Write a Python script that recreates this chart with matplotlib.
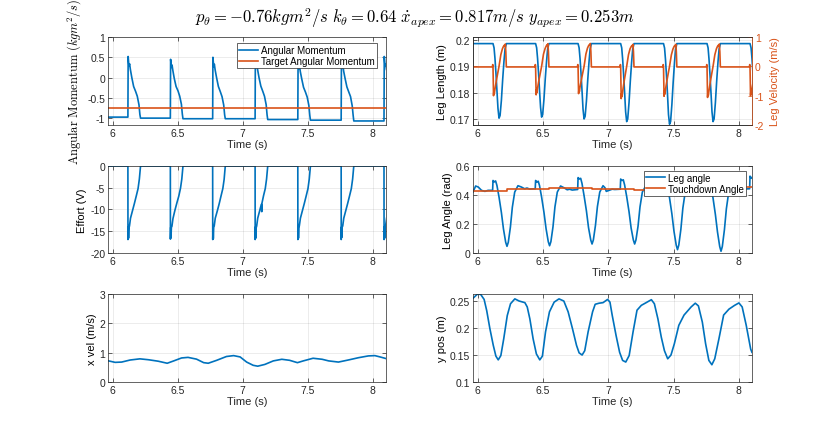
import matplotlib
matplotlib.use('Agg')
import matplotlib.pyplot as plt
from matplotlib.ticker import FormatStrFormatter

plt.rcParams['font.family'] = ['Liberation Sans', 'DejaVu Sans']
plt.rcParams['mathtext.fontset'] = 'cm'
plt.rcParams['axes.unicode_minus'] = False

BLUE = '#0072BD'
ORANGE = '#D95319'
DARK = '#262626'

# angular momentum (kg m^2/s)
am_t = [5.96, 6.118, 6.120, 6.126, 6.131, 6.137, 6.148, 6.162, 6.177, 6.190, 6.203, 6.210, 6.215,
        6.444, 6.446, 6.452, 6.457, 6.463, 6.474, 6.488, 6.503, 6.516, 6.529, 6.536, 6.541,
        6.769, 6.771, 6.777, 6.782, 6.788, 6.799, 6.813, 6.828, 6.841, 6.854, 6.861, 6.866,
        7.095, 7.097, 7.103, 7.108, 7.114, 7.125, 7.139, 7.154, 7.167, 7.180, 7.187, 7.192,
        7.423, 7.425, 7.431, 7.436, 7.442, 7.453, 7.467, 7.482, 7.495, 7.508, 7.515, 7.520,
        7.756, 7.758, 7.764, 7.769, 7.775, 7.786, 7.800, 7.815, 7.828, 7.841, 7.848, 7.853,
        8.085, 8.087, 8.093, 8.098, 8.104]
am_v = [-0.975, -0.975, 0.52, 0.28, 0.34, 0.20, 0.00, -0.22, -0.34, -0.46, -0.67, -0.91, -1.0,
        -1.0, 0.45, 0.25, 0.31, 0.18, -0.02, -0.22, -0.33, -0.46, -0.66, -0.90, -1.015,
        -1.015, 0.50, 0.27, 0.33, 0.19, 0.0, -0.22, -0.35, -0.47, -0.68, -0.92, -1.015,
        -1.015, 0.55, 0.30, 0.35, 0.20, 0.0, -0.21, -0.34, -0.46, -0.67, -0.92, -1.035,
        -1.035, 0.36, 0.22, 0.30, 0.15, -0.03, -0.24, -0.36, -0.48, -0.69, -0.93, -1.05,
        -1.05, 0.39, 0.24, 0.31, 0.16, -0.02, -0.23, -0.36, -0.47, -0.70, -0.93, -1.07,
        -1.07, 0.52, 0.28, 0.34, 0.20]
target_t = [5.96, 8.11]
target_v = [-0.76, -0.76]

# effort (V)
eff_t = [5.96,
         6.118, 6.1185, 6.121, 6.123, 6.126, 6.130, 6.138, 6.153, 6.168, 6.183, 6.196, 6.206, 6.212, 6.215,
         6.444, 6.4445, 6.447, 6.449, 6.452, 6.456, 6.464, 6.479, 6.494, 6.509, 6.522, 6.532, 6.538, 6.541,
         6.769, 6.7695, 6.772, 6.774, 6.777, 6.781, 6.789, 6.804, 6.819, 6.834, 6.847, 6.857, 6.863, 6.866,
         7.095, 7.0955, 7.098, 7.100, 7.103, 7.107, 7.115, 7.130, 7.143, 7.146, 7.148, 7.160, 7.173, 7.183, 7.189, 7.192,
         7.423, 7.4235, 7.426, 7.428, 7.431, 7.435, 7.443, 7.458, 7.473, 7.488, 7.501, 7.511, 7.517, 7.520,
         7.756, 7.7565, 7.759, 7.761, 7.764, 7.768, 7.776, 7.791, 7.806, 7.821, 7.834, 7.844, 7.850, 7.853,
         8.085, 8.0855, 8.088, 8.090, 8.093, 8.097, 8.105]
eff_v = [0,
         0, -16.9, -14.0, -16.6, -14.2, -13.8, -12.0, -10.3, -8.6, -6.8, -5.2, -3.0, -1.0, 0,
         0, -16.8, -14.1, -16.5, -14.0, -13.9, -12.1, -10.2, -8.5, -6.9, -5.1, -3.0, -1.0, 0,
         0, -16.9, -14.2, -16.7, -14.1, -13.8, -12.0, -10.4, -8.7, -6.8, -5.2, -3.1, -1.0, 0,
         0, -16.9, -14.0, -16.6, -14.2, -13.8, -12.0, -10.3, -8.8, -10.5, -8.5, -6.8, -5.2, -3.0, -1.0, 0,
         0, -16.9, -13.8, -16.6, -14.3, -13.7, -12.0, -10.3, -8.6, -6.8, -5.2, -3.0, -1.0, 0,
         0, -16.9, -14.0, -16.4, -14.0, -13.8, -12.0, -10.3, -8.6, -6.8, -5.2, -3.0, -1.0, 0,
         0, -16.9, -14.0, -16.6, -14.2, -13.8, -12.0]

# leg length (m)
ll_t = [5.96,
        6.118, 6.126, 6.133, 6.141, 6.149, 6.156, 6.164, 6.172, 6.182, 6.192, 6.202, 6.210, 6.220,
        6.444, 6.452, 6.459, 6.467, 6.475, 6.482, 6.490, 6.498, 6.508, 6.518, 6.528, 6.536, 6.546,
        6.769, 6.777, 6.784, 6.792, 6.800, 6.807, 6.815, 6.823, 6.833, 6.843, 6.853, 6.861, 6.871,
        7.095, 7.103, 7.110, 7.118, 7.126, 7.133, 7.141, 7.149, 7.159, 7.169, 7.179, 7.187, 7.197,
        7.423, 7.431, 7.438, 7.446, 7.454, 7.461, 7.469, 7.477, 7.487, 7.497, 7.507, 7.515, 7.525,
        7.756, 7.764, 7.771, 7.779, 7.787, 7.794, 7.802, 7.810, 7.820, 7.830, 7.840, 7.848, 7.858,
        8.085, 8.093, 8.100, 8.108]
ll_v = [0.1986,
        0.1986, 0.197, 0.193, 0.187, 0.180, 0.174, 0.1703, 0.1713, 0.177, 0.185, 0.192, 0.1965, 0.1986,
        0.1986, 0.197, 0.193, 0.187, 0.180, 0.1744, 0.1707, 0.1717, 0.1775, 0.1853, 0.192, 0.1965, 0.1986,
        0.1986, 0.197, 0.193, 0.187, 0.180, 0.1737, 0.1700, 0.1710, 0.1768, 0.1848, 0.1918, 0.1965, 0.1986,
        0.1986, 0.197, 0.1928, 0.1865, 0.1793, 0.1727, 0.1690, 0.1700, 0.1762, 0.1845, 0.1917, 0.1964, 0.1986,
        0.1986, 0.1969, 0.1926, 0.1862, 0.1788, 0.1717, 0.1680, 0.1690, 0.1755, 0.1840, 0.1915, 0.1963, 0.1986,
        0.1986, 0.197, 0.1928, 0.1865, 0.1793, 0.1727, 0.1690, 0.1700, 0.1762, 0.1845, 0.1917, 0.1964, 0.1986,
        0.1986, 0.197, 0.193, 0.187]

# leg velocity (m/s)
lv_t = [5.96,
        6.113, 6.116, 6.118, 6.122, 6.125, 6.128, 6.132, 6.143, 6.164, 6.178, 6.190, 6.198, 6.204, 6.208, 6.212, 6.216, 6.220,
        6.439, 6.442, 6.444, 6.448, 6.451, 6.454, 6.458, 6.469, 6.490, 6.504, 6.516, 6.524, 6.530, 6.534, 6.538, 6.542, 6.546,
        6.764, 6.767, 6.769, 6.773, 6.776, 6.779, 6.783, 6.794, 6.815, 6.829, 6.841, 6.849, 6.855, 6.859, 6.863, 6.867, 6.871,
        7.090, 7.093, 7.095, 7.099, 7.102, 7.105, 7.109, 7.120, 7.141, 7.155, 7.167, 7.175, 7.181, 7.185, 7.189, 7.193, 7.197,
        7.418, 7.421, 7.423, 7.427, 7.430, 7.433, 7.437, 7.448, 7.469, 7.483, 7.495, 7.503, 7.509, 7.513, 7.517, 7.521, 7.525,
        7.751, 7.754, 7.756, 7.760, 7.763, 7.766, 7.770, 7.781, 7.802, 7.816, 7.828, 7.836, 7.842, 7.846, 7.850, 7.854, 7.858,
        8.080, 8.083, 8.085, 8.089, 8.092, 8.095, 8.099, 8.110]
lv_v = [-0.02,
        -0.02, 0.06, -0.02, -1.0, -0.82, -0.93, -0.8, -0.5, 0.0, 0.4, 0.6, 0.68, 0.72, 0.70, 0.76, 0.5, -0.02,
        -0.02, 0.06, -0.02, -0.97, -0.79, -0.9, -0.77, -0.48, 0.0, 0.41, 0.6, 0.68, 0.73, 0.71, 0.77, 0.5, -0.02,
        -0.02, 0.06, -0.02, -0.93, -0.75, -0.86, -0.73, -0.46, 0.0, 0.42, 0.62, 0.7, 0.74, 0.72, 0.78, 0.5, -0.02,
        -0.02, 0.06, -0.02, -1.1, -0.92, -1.03, -0.9, -0.55, 0.0, 0.4, 0.6, 0.67, 0.71, 0.69, 0.75, 0.5, -0.02,
        -0.02, 0.06, -0.02, -1.02, -0.84, -0.95, -0.82, -0.51, 0.0, 0.39, 0.59, 0.67, 0.71, 0.69, 0.75, 0.5, -0.02,
        -0.02, 0.06, -0.02, -1.06, -0.88, -0.99, -0.86, -0.53, 0.0, 0.4, 0.6, 0.68, 0.72, 0.70, 0.76, 0.5, -0.02,
        -0.02, 0.06, -0.02, -1.0, -0.82, -0.93, -0.8, -0.5]

# leg angle (rad)
la_t = [5.965, 5.985, 6.005, 6.03, 6.056, 6.08, 6.115,
        6.118, 6.128, 6.138, 6.148, 6.164, 6.182, 6.198, 6.215, 6.225, 6.235, 6.251, 6.266, 6.284, 6.309, 6.335, 6.36, 6.378, 6.398, 6.441,
        6.444, 6.454, 6.464, 6.474, 6.49, 6.508, 6.524, 6.541, 6.551, 6.561, 6.577, 6.592, 6.61, 6.635, 6.661, 6.686, 6.704, 6.724, 6.766,
        6.769, 6.779, 6.789, 6.799, 6.815, 6.833, 6.849, 6.866, 6.876, 6.886, 6.902, 6.917, 6.935, 6.96, 6.975, 6.985, 7.0, 7.03, 7.05, 7.092,
        7.095, 7.105, 7.115, 7.125, 7.141, 7.159, 7.175, 7.192, 7.202, 7.212, 7.228, 7.243, 7.261, 7.286, 7.312, 7.337, 7.355, 7.375, 7.42,
        7.423, 7.433, 7.443, 7.453, 7.469, 7.487, 7.503, 7.52, 7.53, 7.54, 7.556, 7.571, 7.589, 7.614, 7.64, 7.665, 7.683, 7.703, 7.753,
        7.756, 7.766, 7.776, 7.786, 7.802, 7.82, 7.836, 7.853, 7.863, 7.873, 7.889, 7.904, 7.922, 7.947, 7.973, 7.998, 8.016, 8.036, 8.082,
        8.085, 8.095, 8.10]
la_v = [0.42, 0.462, 0.455, 0.432, 0.425, 0.432, 0.432,
        0.50, 0.49, 0.497, 0.466, 0.386, 0.28, 0.166, 0.074, 0.046, 0.074, 0.178, 0.316, 0.42, 0.464, 0.455, 0.443, 0.448, 0.441, 0.443,
        0.50, 0.488, 0.495, 0.465, 0.385, 0.28, 0.168, 0.078, 0.05, 0.078, 0.18, 0.318, 0.42, 0.462, 0.45, 0.436, 0.44, 0.434, 0.438,
        0.52, 0.51, 0.515, 0.48, 0.395, 0.29, 0.175, 0.09, 0.062, 0.09, 0.19, 0.32, 0.42, 0.464, 0.45, 0.425, 0.43, 0.44, 0.438, 0.44,
        0.51, 0.5, 0.505, 0.47, 0.39, 0.285, 0.172, 0.09, 0.062, 0.09, 0.185, 0.318, 0.42, 0.462, 0.452, 0.44, 0.445, 0.438, 0.44,
        0.51, 0.5, 0.505, 0.465, 0.38, 0.27, 0.15, 0.055, 0.023, 0.055, 0.165, 0.31, 0.42, 0.464, 0.455, 0.443, 0.448, 0.441, 0.443,
        0.51, 0.5, 0.505, 0.465, 0.378, 0.265, 0.145, 0.045, 0.012, 0.045, 0.16, 0.305, 0.42, 0.464, 0.455, 0.443, 0.448, 0.441, 0.443,
        0.53, 0.515, 0.52]

# touchdown angle (rad), held between steps
td_t = [5.96, 6.225, 6.548, 6.872, 7.20, 7.528, 7.862, 8.11]
td_v = [0.427, 0.438, 0.446, 0.441, 0.436, 0.448, 0.455, 0.455]

# x velocity (m/s)
xv_t = [5.97, 6.02, 6.07, 6.135, 6.21, 6.275, 6.35, 6.42, 6.47, 6.53, 6.58, 6.645, 6.70, 6.735,
        6.80, 6.875, 6.93, 6.98, 7.03, 7.08, 7.115, 7.17, 7.235, 7.30, 7.36, 7.42, 7.465, 7.54,
        7.61, 7.66, 7.735, 7.81, 7.89, 7.965, 8.015, 8.055, 8.10]
xv_v = [0.72, 0.67, 0.68, 0.75, 0.79, 0.76, 0.71, 0.64, 0.72, 0.82, 0.84, 0.78, 0.66, 0.64,
        0.74, 0.87, 0.90, 0.855, 0.68, 0.57, 0.54, 0.60, 0.72, 0.775, 0.74, 0.66, 0.72, 0.81,
        0.775, 0.72, 0.68, 0.75, 0.83, 0.89, 0.90, 0.855, 0.80]

# y position (m)
yp_t = [5.967, 5.997, 6.023, 6.05, 6.07, 6.094, 6.12, 6.14, 6.158, 6.178, 6.2, 6.227, 6.252, 6.285,
        6.318, 6.362, 6.38, 6.40, 6.425, 6.45, 6.476, 6.496, 6.52, 6.55, 6.586, 6.623, 6.66, 6.693,
        6.726, 6.757, 6.777, 6.8, 6.82, 6.846, 6.88, 6.9, 6.93, 6.96, 6.995, 7.013, 7.03, 7.06,
        7.087, 7.11, 7.134, 7.16, 7.19, 7.22, 7.253, 7.29, 7.33, 7.353, 7.38, 7.406, 7.43, 7.455,
        7.48, 7.506, 7.54, 7.58, 7.634, 7.666, 7.69, 7.72, 7.745, 7.77, 7.793, 7.815, 7.847, 7.883,
        7.924, 7.967, 8.0, 8.025, 8.056, 8.09, 8.10]
yp_v = [0.2556, 0.2625, 0.2625, 0.253, 0.232, 0.199, 0.168, 0.148, 0.141, 0.149, 0.18, 0.223, 0.245, 0.254,
        0.25, 0.247, 0.239, 0.217, 0.18, 0.152, 0.141, 0.148, 0.193, 0.23, 0.248, 0.254, 0.25, 0.23,
        0.199, 0.168, 0.154, 0.15, 0.158, 0.193, 0.23, 0.244, 0.246, 0.247, 0.253, 0.248, 0.224, 0.186,
        0.155, 0.14, 0.137, 0.149, 0.193, 0.233, 0.242, 0.247, 0.2525, 0.245, 0.217, 0.183, 0.158, 0.143,
        0.15, 0.171, 0.205, 0.224, 0.239, 0.246, 0.241, 0.211, 0.171, 0.14, 0.132, 0.143, 0.18, 0.224,
        0.235, 0.242, 0.2465, 0.239, 0.205, 0.161, 0.155]

x_ticks = [6, 6.5, 7, 7.5, 8]


def style(ax, right=True):
    ax.set_xlim(5.965, 8.10)
    ax.set_xticks(x_ticks)
    ax.xaxis.set_major_formatter(FormatStrFormatter('%g'))
    ax.yaxis.set_major_formatter(FormatStrFormatter('%g'))
    ax.grid(True, color=DARK, alpha=0.12, linewidth=0.5)
    ax.tick_params(direction='in', length=3, width=0.5, top=True, right=right,
                   labelsize=7.5, colors=DARK, pad=2)
    for s in ax.spines.values():
        s.set_linewidth(0.5)
        s.set_color(DARK)
    ax.set_xlabel('Time (s)', fontsize=8, labelpad=1, color=DARK)


fig = plt.figure(figsize=(8.3, 4.35), dpi=100)

L1, W1 = 0.1301, 0.3349
L2, W2 = 0.5699, 0.3361
B1, B2, B3 = 0.7103, 0.4161, 0.1195
H = 0.2023

# angular momentum
ax = fig.add_axes([L1, B1, W1, H])
ax.plot(am_t, am_v, color=BLUE, lw=1.2, label='Angular Momentum')
ax.plot(target_t, target_v, color=ORANGE, lw=1.2, label='Target Angular Momentum')
style(ax)
ax.set_ylim(-1.17, 1)
ax.set_yticks([-1, -0.5, 0, 0.5, 1])
ax.set_ylabel(r'$\mathrm{Angular\ Momentum}\ (kgm^2/s)$', fontsize=9, labelpad=3)
leg = ax.legend(loc='upper right', bbox_to_anchor=(0.968, 0.932), fontsize=7,
                fancybox=False, edgecolor=DARK, framealpha=1, borderaxespad=0,
                handlelength=2, borderpad=0.2, labelspacing=0.1, handletextpad=0.3)
leg.get_frame().set_linewidth(0.5)

# leg length / leg velocity
ax = fig.add_axes([L2, B1, W2, H])
ax.plot(ll_t, ll_v, color=BLUE, lw=1.2)
style(ax, right=False)
ax.set_ylim(0.1677, 0.2011)
ax.set_yticks([0.17, 0.18, 0.19, 0.2])
ax.set_ylabel('Leg Length (m)', fontsize=8, labelpad=2)
ax2 = ax.twinx()
ax2.plot(lv_t, lv_v, color=ORANGE, lw=1.2)
ax2.set_xlim(5.965, 8.10)
ax2.set_ylim(-2, 1)
ax2.set_yticks([-2, -1, 0, 1])
ax2.yaxis.set_major_formatter(FormatStrFormatter('%g'))
ax2.tick_params(direction='in', length=3, width=0.5, labelsize=7.5, colors=ORANGE, pad=2)
for s in ax2.spines.values():
    s.set_linewidth(0.5)
    s.set_color(DARK)
ax2.spines['right'].set_color(ORANGE)
ax2.set_ylabel('Leg Velocity (m/s)', fontsize=8, color=ORANGE, labelpad=4)

# effort
ax = fig.add_axes([L1, B2, W1, 0.2])
ax.plot(eff_t, eff_v, color=BLUE, lw=1.2)
style(ax)
ax.set_ylim(-20, 0)
ax.set_yticks([-20, -15, -10, -5, 0])
ax.set_ylabel('Effort (V)', fontsize=8, labelpad=2)

# leg angle
ax = fig.add_axes([L2, B2, W2, 0.2])
ax.plot(la_t, la_v, color=BLUE, lw=1.2, label='Leg angle')
ax.step(td_t, td_v, where='post', color=ORANGE, lw=1.2, label='Touchdown Angle')
style(ax)
ax.set_ylim(0, 0.6)
ax.set_yticks([0, 0.2, 0.4, 0.6])
ax.set_ylabel('Leg Angle (rad)', fontsize=8, labelpad=2)
leg = ax.legend(loc='upper right', bbox_to_anchor=(0.978, 0.943), fontsize=7,
                fancybox=False, edgecolor=DARK, framealpha=1, borderaxespad=0,
                handlelength=2, borderpad=0.2, labelspacing=0.1, handletextpad=0.3)
leg.get_frame().set_linewidth(0.5)

# x velocity
ax = fig.add_axes([L1, B3, W1, H])
ax.plot(xv_t, xv_v, color=BLUE, lw=1.2)
style(ax)
ax.set_ylim(0, 3)
ax.set_yticks([0, 1, 2, 3])
ax.set_ylabel('x vel (m/s)', fontsize=8, labelpad=2)

# y position
ax = fig.add_axes([L2, B3, W2, H])
ax.plot(yp_t, yp_v, color=BLUE, lw=1.2)
style(ax)
ax.set_ylim(0.1, 0.263)
ax.set_yticks([0.1, 0.15, 0.2, 0.25])
ax.set_ylabel('y pos (m)', fontsize=8, labelpad=2)

fig.text(0.5, 0.958,
         r'$p_\theta = -0.76kgm^2/s\ k_\theta = 0.64\ \dot{x}_{apex} = 0.817m/s\ y_{apex} = 0.253m$',
         ha='center', va='center', fontsize=12)

fig.savefig('out.png', dpi=100)
